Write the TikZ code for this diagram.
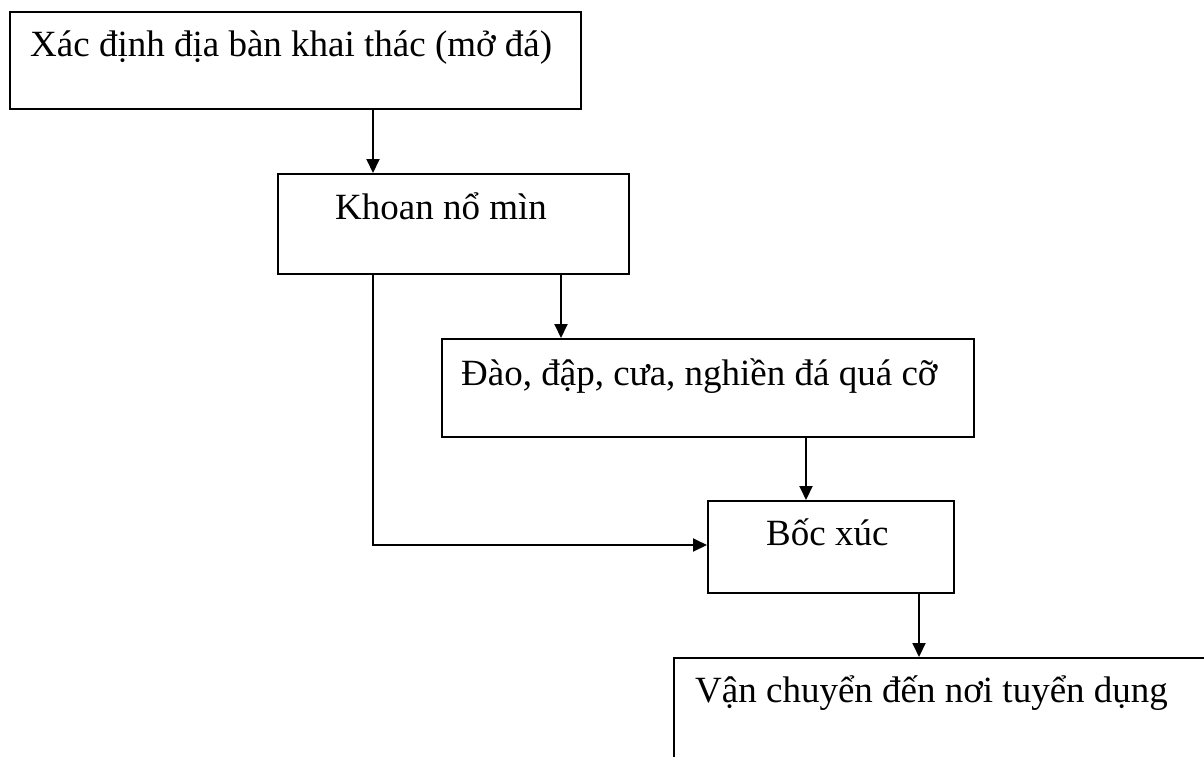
\documentclass[tikz,border=0pt]{standalone}
\usepackage{fontspec}
\setmainfont{Liberation Serif}
\usetikzlibrary{arrows.meta, positioning}

\tikzset{
  stepbox/.style={draw, rectangle, line width=1.6pt, anchor=north west, inner sep=0pt},
  steptext/.style={anchor=base west, inner sep=0pt, font=\fontsize{37}{44}\selectfont},
  flow/.style={-{Triangle[length=14pt, width=13pt]}, line width=1.9pt},
}

\begin{document}
\begin{tikzpicture}[x=1pt, y=-1pt]
	     \clip (0,0) rectangle (1204,756);
	     % boxes %
		 \node[stepbox, minimum width=571pt, minimum height=97pt] (xacdinh) at (9,11) {};
		 \node[stepbox, minimum width=351pt, minimum height=100pt] (khoan) at (277,173) {};
		 \node[stepbox, minimum width=532pt, minimum height=98pt] (dao) at (441,338) {};
		 \node[stepbox, minimum width=246pt, minimum height=92pt] (bocxuc) at (707,500) {};
		 \node[stepbox, minimum width=560pt, minimum height=140pt] (vanchuyen) at (673,657) {};

	     % texts %
		 \node[steptext] (xacdinh-text) at ([xshift=21pt, yshift=-45pt]xacdinh.north west) {Xác định địa bàn khai thác (mở đá)};
		 \node[steptext] (khoan-text) at ([xshift=58pt, yshift=-46pt]khoan.north west) {Khoan nổ mìn};
		 \node[steptext] (dao-text) at ([xshift=20pt, yshift=-47pt]dao.north west) {Đào, đập, cưa, nghiền đá quá cỡ};
		 \node[steptext] (bocxuc-text) at ([xshift=59pt, yshift=-45pt]bocxuc.north west) {Bốc xúc};
		 \node[steptext] (vanchuyen-text) at ([xshift=22pt, yshift=-45pt]vanchuyen.north west) {Vận chuyển đến nơi tuyển dụng};

	     % edges %
		 \draw[flow] ([xshift=364pt]xacdinh.south west) -- ([xshift=96pt]khoan.north west);
		 \draw[flow] ([xshift=284pt]khoan.south west) -- ([xshift=120pt]dao.north west);
		 \draw[flow] ([xshift=365pt]dao.south west) -- ([xshift=99pt]bocxuc.north west);
		 \draw[flow] ([xshift=212pt]bocxuc.south west) -- ([xshift=246pt]vanchuyen.north west);
		 \draw[flow] ([xshift=96pt]khoan.south west) |- ([yshift=-45pt]bocxuc.north west);
\end{tikzpicture}
\end{document}
